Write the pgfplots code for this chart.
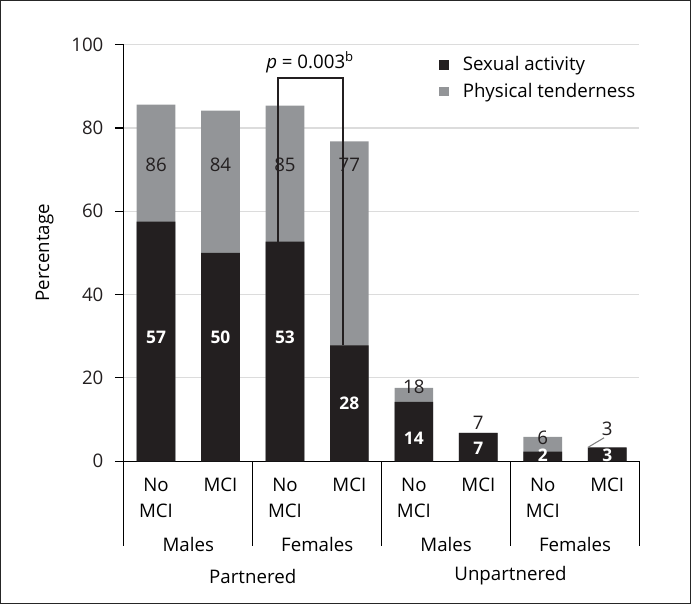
\documentclass[border=0pt]{standalone}
\usepackage{fontspec}
\setmainfont{Open Sans}
\usepackage{pgfplots}
\pgfplotsset{compat=1.18}
\definecolor{barblack}{HTML}{231F20}
\definecolor{bargray}{HTML}{939598}
\definecolor{gridgray}{HTML}{DCDCDC}
\begin{document}
\begin{tikzpicture}[font=\fontsize{14}{17}\selectfont]
\begin{axis}[
  font=\fontsize{14}{17}\selectfont,
  x=48.3pt, y=3.12pt,
  scale only axis,
  xmin=-0.5, xmax=7.5,
  ymin=0, ymax=100,
  axis x line*=bottom,
  axis y line*=left,
  xtick=\empty,
  ytick={0,20,40,60,80,100},
  ymajorgrids,
  grid style={gridgray, line width=0.8pt},
  tick style={black, line width=0.8pt},
  tick align=outside,
  major tick length=6.75pt,
  axis line style={black, line width=0.9pt},
  /pgf/number format/assume math mode=true,
  yticklabel style={xshift=-5pt, text=barblack},
  clip=false,
  ybar, bar width=0.6, bar shift=0pt,
  legend style={at={(axis cs:4.33,98.5)}, anchor=north west, draw=none, fill=none,
    row sep=4pt, font=\fontsize{14}{17}\selectfont},
  legend cell align=left,
  legend image code/.code={\fill[#1] (0pt,-3.7pt) rectangle (7.5pt,3.7pt); \path (15.5pt,0pt);},
]
\addplot[draw=none, fill=bargray, forget plot] coordinates {(0,85.6) (1,84.2) (2,85.4) (3,76.8) (4,17.6) (5,6.8) (6,5.8) (7,3.2)};
\addplot[draw=none, fill=barblack] coordinates {(0,57.5) (1,50) (2,52.7) (3,27.8) (4,14.2) (5,6.8) (6,2.3) (7,3.3)};
\addlegendentry{Sexual activity}
\addlegendimage{fill=bargray, draw=none}
\addlegendentry{Physical tenderness}
% gray labels
\node[text=barblack] at (axis cs:0,71.2) {86};
\node[text=barblack] at (axis cs:1,71.2) {84};
\node[text=barblack] at (axis cs:2,71.2) {85};
\node[text=barblack] at (axis cs:3,71.2) {77};
\node[text=barblack] at (axis cs:4,17.8) {18};
\node[text=barblack] at (axis cs:5,9.1) {7};
\node[text=barblack] at (axis cs:6,5.5) {6};
\node[text=barblack] at (axis cs:7,7.7) {3};
\draw[gray, line width=0.8pt] (axis cs:6.7,3.3) -- (axis cs:6.95,5.6);
% bracket
\draw[barblack, line width=1.2pt] (axis cs:1.89,52.7) -- (axis cs:1.89,92) -- (axis cs:2.9,92) -- (axis cs:2.9,27.8);
% black labels
\node[text=white, font=\fontsize{13}{15}\selectfont\bfseries] at (axis cs:0,29.8) {57};
\node[text=white, font=\fontsize{13}{15}\selectfont\bfseries] at (axis cs:1,29.8) {50};
\node[text=white, font=\fontsize{13}{15}\selectfont\bfseries] at (axis cs:2,29.8) {53};
\node[text=white, font=\fontsize{13}{15}\selectfont\bfseries] at (axis cs:3,14) {28};
\node[text=white, font=\fontsize{13}{15}\selectfont\bfseries] at (axis cs:4,5.5) {14};
\node[text=white, font=\fontsize{13}{15}\selectfont\bfseries] at (axis cs:5,3.0) {7};
\node[text=white, font=\fontsize{13}{15}\selectfont\bfseries] at (axis cs:6,1.4) {2};
\node[text=white, font=\fontsize{13}{15}\selectfont\bfseries] at (axis cs:7,1.3) {3};
% p value
\node at (axis cs:2.39,95.8) {\textit{p} = 0.003\textsuperscript{b}};
% y label
\node[rotate=90] at (axis cs:-1.727,50) {Percentage};
% category labels
\pgfplotsinvokeforeach{0,2,4,6}{
  \node at (axis cs:#1,-5.8) {No};
  \node at (axis cs:#1,-12.0) {MCI};
}
\pgfplotsinvokeforeach{1,3,5,7}{
  \node at (axis cs:#1,-5.8) {MCI};
}
\pgfplotsinvokeforeach{-0.5,1.5,3.5,5.5,7.5}{
  \draw[black, line width=0.9pt] (axis cs:#1,0) -- (axis cs:#1,-20.4);
}
\node at (axis cs:0.5,-20) {Males};
\node at (axis cs:2.5,-20) {Females};
\node at (axis cs:4.5,-20) {Males};
\node at (axis cs:6.5,-20) {Females};
\node at (axis cs:1.5,-27.6) {Partnered};
\node at (axis cs:5.5,-27.6) {Unpartnered};
\coordinate (O) at (axis cs:-0.5,0);
\end{axis}
\draw[black!85, line width=1pt] ([shift={(-92.25pt,-106.5pt)}]O) rectangle ([shift={(424.5pt,345pt)}]O);
\end{tikzpicture}
\end{document}
